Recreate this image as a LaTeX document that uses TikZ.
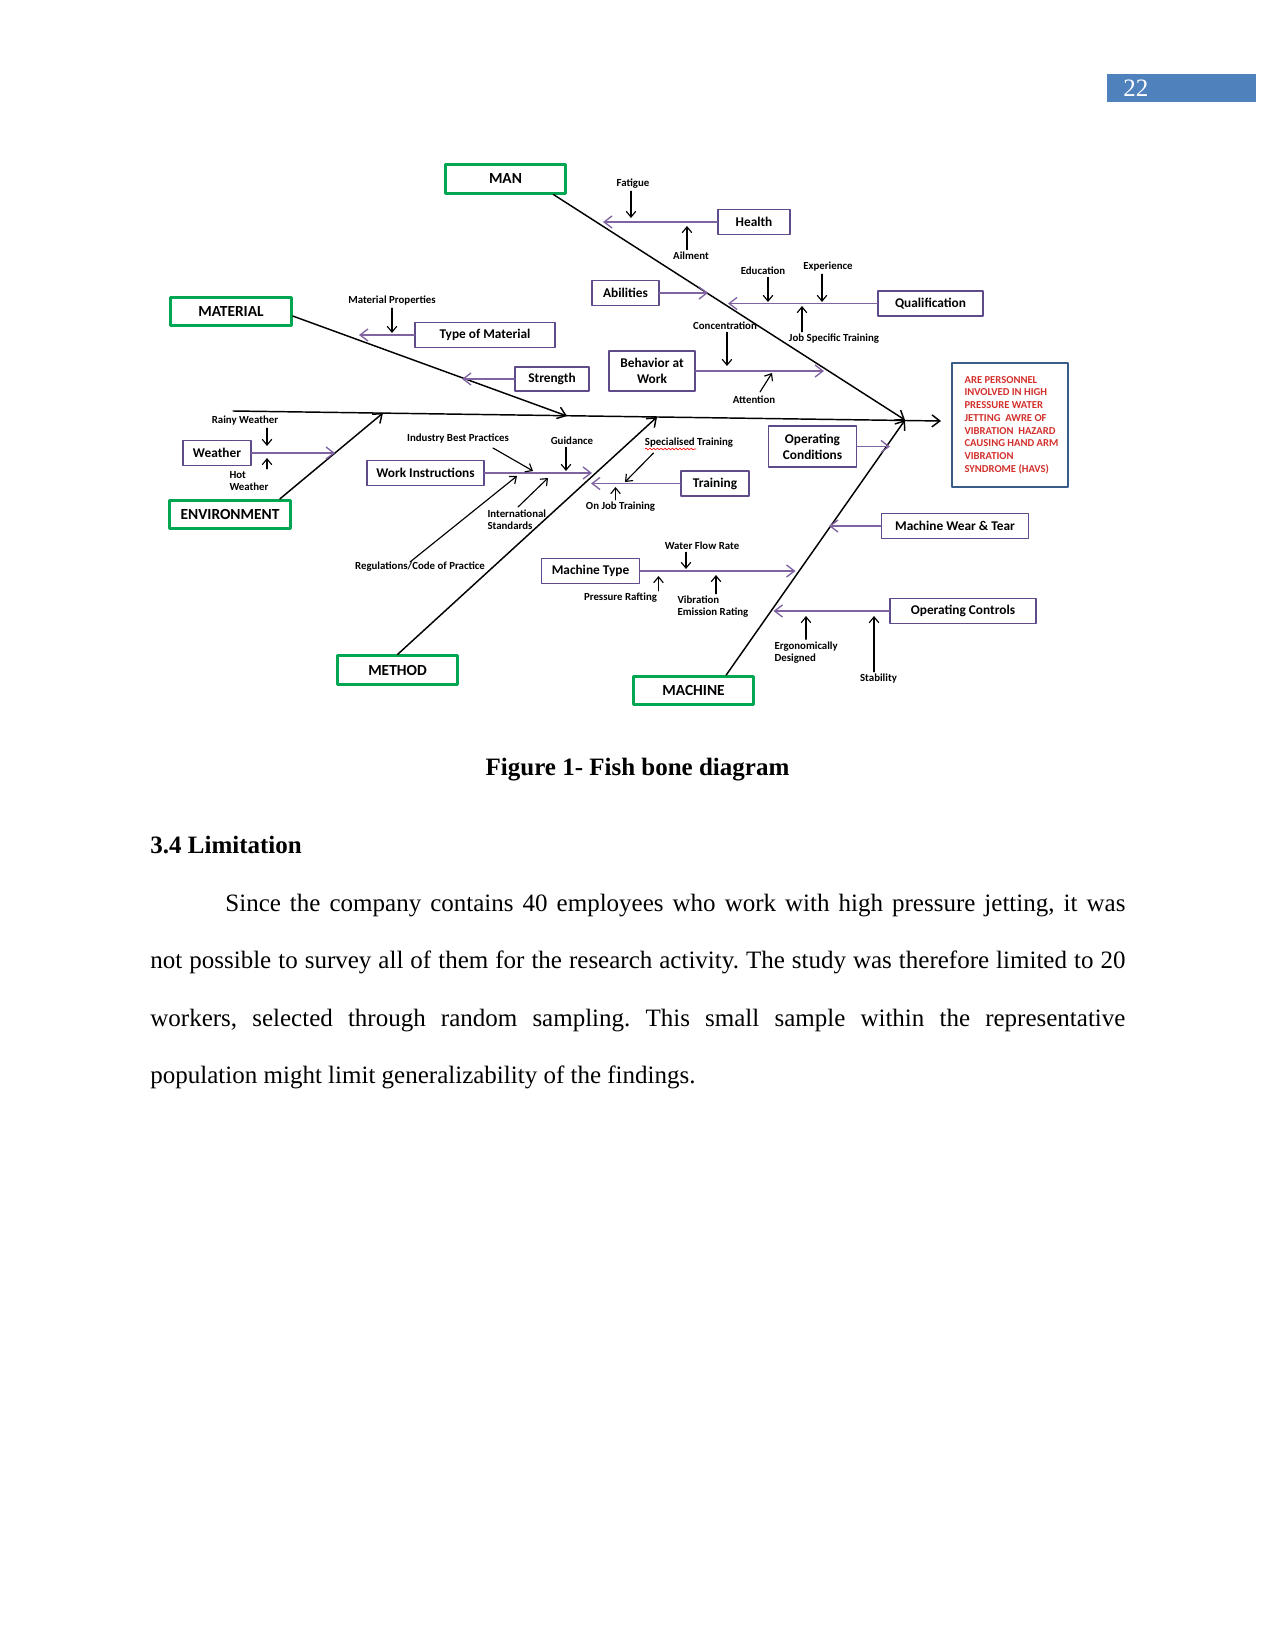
\documentclass[tikz,border=0pt]{standalone}
\usepackage{fontspec}
\setmainfont{Liberation Serif}
\newfontfamily\calibri{Carlito}
\usetikzlibrary{arrows.meta,decorations.pathmorphing}
\definecolor{FishGreen}{HTML}{00A651}
\definecolor{FishPurple}{HTML}{8064A2}
\definecolor{FishFrame}{HTML}{5F4B8B}
\definecolor{FishRed}{HTML}{D2302C}
\definecolor{FishNavy}{HTML}{385D8A}
\definecolor{PageBlue}{HTML}{4F81BD}

\begin{document}
\begin{tikzpicture}[x=0.48pt,y=-0.48pt,line cap=round,line join=round,
  catbox/.style={draw=FishGreen,line width=1.4pt,minimum width=58pt,minimum height=13.5pt,inner sep=0pt,font=\calibri\bfseries\fontsize{7.4}{9}\selectfont},
  cause/.style={draw=FishFrame,line width=0.7pt,minimum height=12pt,inner sep=0pt,align=center,font=\calibri\bfseries\fontsize{6.4}{7.6}\selectfont},
  tag/.style={inner sep=1pt,align=left,font=\calibri\bfseries\fontsize{5.2}{5.8}\selectfont},
  page/.style={font=\fontsize{12}{14.4}\selectfont},
  pagebold/.style={font=\bfseries\fontsize{12}{14.4}\selectfont},
  bone/.style={line width=0.7pt,-{Straight Barb[length=3.8pt,width=5.8pt]}},
  twig/.style={FishPurple,line width=0.65pt,-{Straight Barb[length=3.8pt,width=5.8pt]}},
  cue/.style={line width=0.55pt,-{Straight Barb[length=2.8pt,width=4.6pt]}}]
  \useasboundingbox (0,0) rectangle (1275,1650);
  \node[fill=PageBlue,anchor=north west,minimum width=71.5pt,minimum height=13.4pt,inner sep=0] (pagebar) at (1107,74) {};
  \node[page,anchor=base west,text=white,inner sep=0] (pageno) at (1123,96.5) {22};

  \node[catbox] (man) at (505.5,179) {MAN};
  \node[catbox] (material) at (231,311.5) {MATERIAL};
  \node[catbox] (environment) at (230,514.5) {ENVIRONMENT};
  \node[catbox] (method) at (397.5,670) {METHOD};
  \node[catbox] (machine) at (693.5,690.5) {MACHINE};
  \node[draw=FishNavy,line width=1pt,minimum width=55.7pt,minimum height=59.5pt,inner sep=0,align=left,text=FishRed,
    font=\calibri\bfseries\fontsize{5.1}{6.1}\selectfont] (effect) at (1010,425)
    {\hspace*{1.4pt}ARE PERSONNEL\\\hspace*{1.4pt}INVOLVED IN HIGH\\\hspace*{1.4pt}PRESSURE WATER\\\hspace*{1.4pt}JETTING\ \ AWRE OF\\
     \hspace*{1.4pt}VIBRATION\ \ HAZARD\\\hspace*{1.4pt}CAUSING HAND ARM\\\hspace*{1.4pt}VIBRATION\\\hspace*{1.4pt}SYNDROME (HAVS)};

  \node[cause,minimum width=34.6pt] (health) at (754,222) {Health};
  \node[cause,minimum width=32pt] (abilities) at (625.5,293) {Abilities};
  \node[cause,minimum width=50.4pt] (qualification) at (930.5,303.5) {Qualification};
  \node[cause,minimum width=41.3pt,minimum height=19.2pt] (behaviour) at (652,371) {Behavior at\\Work};
  \node[cause,minimum width=67pt] (typemat) at (485,335) {Type of Material};
  \node[cause,minimum width=35.5pt,minimum height=11.5pt] (strength) at (552,379) {Strength};
  \node[cause,minimum width=32.6pt] (weather) at (217,453) {Weather};
  \node[cause,minimum width=56pt] (workinst) at (425.5,473) {Work Instructions};
  \node[cause,minimum width=32.6pt] (training) at (715,483.5) {Training};
  \node[cause,minimum width=42.4pt,minimum height=19.7pt] (opcond) at (812.5,446.5) {Operating\\Conditions};
  \node[cause,minimum width=70.4pt] (weartear) at (955,526) {Machine Wear \& Tear};
  \node[cause,minimum width=46.8pt] (machtype) at (590.5,571) {Machine Type};
  \node[cause,minimum width=70pt] (opctrl) at (963,611) {Operating Controls};

  \node[tag] (fatigue) at (633,184) {Fatigue};
  \node[tag] (ailment) at (691,256) {Ailment};
  \node[tag] (education) at (763,271) {Education};
  \node[tag] (experience) at (828,267) {Experience};
  \node[tag] (jobtrain) at (834,339) {Job Specific Training};
  \node[tag] (concentration) at (725,326) {Concentration};
  \node[tag] (attention) at (754,400) {Attention};
  \node[tag] (matprop) at (392,301) {Material Properties};
  \node[tag] (rainy) at (245,421) {Rainy Weather};
  \node[tag,anchor=west] (hot) at (227,481) {Hot\\Weather};
  \node[tag] (bestprac) at (458,439) {Industry Best Practices};
  \node[tag] (guidance) at (572,441) {Guidance};
  \node[tag] (regs) at (420,567) {Regulations/Code of Practice};
  \node[tag,anchor=west] (intl) at (485,519.5) {International\\Standards};
  \node[tag] (special) at (689,443) {Specialised Training};
  \node[tag] (onjob) at (620.5,507) {On Job Training};
  \node[tag] (flow) at (702,546) {Water Flow Rate};
  \node[tag] (pressure) at (620.5,598) {Pressure Rafting};
  \node[tag,anchor=west] (vibration) at (675,607) {Vibration\\Emission Rating};
  \node[tag,anchor=west] (ergo) at (772,652.5) {Ergonomically\\Designed};
  \node[tag] (stability) at (878.5,679) {Stability};

  \foreach \n/\x/\y in {head/905/420,mouth/941/421,tail/233/411,matend/567/416,envend/383/413,methend/657/417,
    healthtip/603/222,abiltip/708/293,qualtip/728/303,behavtip/824/371,typetip/359/335,strtip/462/379,
    weathtip/335/453,worktip/592/473,traintip/591/483,condtip/890/444,weartip/829/526,typemtip/795.5/571,ctrltip/773.5/611,
    fatiguetip/631/218,ailtip/687/226,edutip/768/302,exptip/822/302,jobtip/802/306,conctip/727/366,
    atttip/772/373,att0/760/392,proptip/392/333,rainytip/267/446,hottip/267/458,bestptip/533/471,bestp0/493/448,
    guidtip/566/471,regs0/410/562,regstip/517/476,intl0/518/507,intltip/548/478,spec0/653.5/453,spectip/625/482,
    onjobtip/615.5/487,flowtip/686/569,presstip/658.5/576,vibtip/716/575,ergotip/806/616,stabtip/874/616}
    \coordinate (\n) at (\x,\y);

  \draw[bone] (tail) -- (mouth);
  \draw[bone] ([xshift=-6.7pt]man.south east) -- (head);
  \draw[bone] ([yshift=-2.2pt]material.east) -- (matend);
  \draw[bone] ([xshift=-5.8pt]environment.north east) -- (envend);
  \draw[bone] (method.north) -- (methend);
  \draw[bone] ([xshift=-14pt]machine.north east) -- (head);

  \foreach \b/\t in {health.west/healthtip,abilities.east/abiltip,qualification.west/qualtip,behaviour.east/behavtip,
    typemat.west/typetip,strength.west/strtip,weather.east/weathtip,workinst.east/worktip,training.west/traintip,
    opcond.east/condtip,weartear.west/weartip,machtype.east/typemtip,opctrl.west/ctrltip}
    \draw[twig] (\b) -- (\b -| \t);

  \foreach \l/\t in {fatigue/fatiguetip,education/edutip,experience/exptip,concentration/conctip,matprop/proptip,
    rainy/rainytip,guidance/guidtip,flow/flowtip}
    \draw[cue] (\l.south -| \t) -- (\t);
  \foreach \l/\t in {ailment/ailtip,jobtrain/jobtip,hot/hottip,onjob/onjobtip,pressure/presstip,vibration/vibtip,
    ergo/ergotip,stability/stabtip}
    \draw[cue] (\l.north -| \t) -- (\t);
  \foreach \s/\t in {att0/atttip,bestp0/bestptip,regs0/regstip,intl0/intltip,spec0/spectip}
    \draw[cue] (\s) -- (\t);
  \draw[red,line width=0.3pt,decorate,decoration={snake,amplitude=0.45pt,segment length=1.8pt}] (645,449) -- (696,449);

  \node[pagebold,anchor=base] (caption) at (637.5,775.5) {Figure 1- Fish bone diagram};
  \node[pagebold,anchor=base west,inner sep=0] (heading) at (150,853) {3.4 Limitation};
  \node[anchor=base west,text width=468pt,align=justify,inner sep=0,font=\fontsize{12}{27.6}\selectfont] (body) at (150,911)
    {\frenchspacing\hspace*{36pt}Since the company contains 40 employees who work with high pressure jetting, it was\linebreak
    not possible to survey all of them for the research activity. The study was therefore limited to 20\linebreak
    workers, selected through random sampling. This small sample within the representative\linebreak
    population might limit generalizability of the findings.};
\end{tikzpicture}
\end{document}
